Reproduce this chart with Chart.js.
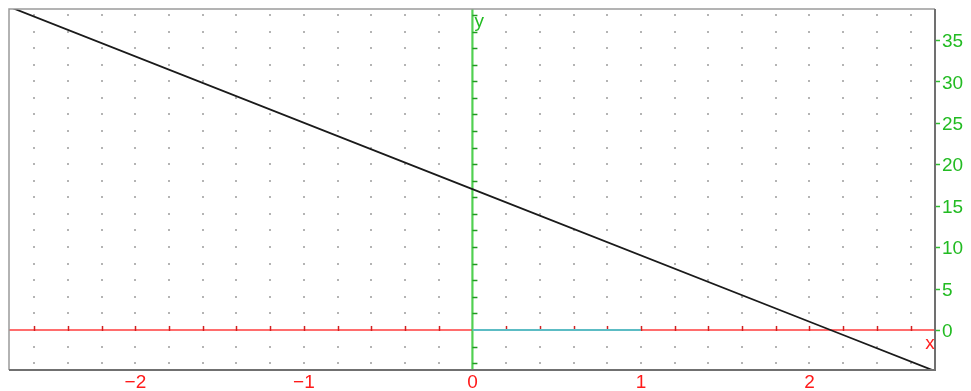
<!DOCTYPE html>
<html>
<head>
<meta charset="utf-8">
<script src="https://cdn.jsdelivr.net/npm/chart.js@4/dist/chart.umd.min.js"></script>
<style>
html,body{margin:0;padding:0;background:#fff;}
#c{display:block;}
</style>
</head>
<body>
<canvas id="c" width="971" height="391"></canvas>
<script>
// ---- data ----
const lineX = [-2.75, 0, 2.125, 2.75];
const lineY = [39, 17, 0, -5];
const segX = [0, 1];
const segY = [0, 0];
const xTickValues = [-2, -1, 0, 1, 2];
const xTickLabels = ['\u22122', '\u22121', '0', '1', '2'];
const yTickValues = [0, 5, 10, 15, 20, 25, 30, 35];
const yTickLabels = ['0', '5', '10', '15', '20', '25', '30', '35'];
const xRange = [-2.75, 2.745];
const yRange = [-4.83, 38.72];
const xMinorStep = 0.2;
const yMinorStep = 2;

const FONT = '"Liberation Sans", Arial, Helvetica, sans-serif';

const decor = {
  id: 'decor',
  beforeDatasetsDraw(chart) {
    const {ctx, chartArea: a, scales: {x, y}} = chart;
    ctx.save();
    // dot grid
    ctx.fillStyle = '#b4b4b4';
    const nx0 = Math.ceil(xRange[0] / xMinorStep), nx1 = Math.floor(xRange[1] / xMinorStep);
    const ny0 = Math.ceil(yRange[0] / yMinorStep), ny1 = Math.floor(yRange[1] / yMinorStep);
    for (let i = nx0; i <= nx1; i++) {
      if (i === 0) continue;
      const px = Math.round(x.getPixelForValue(i * xMinorStep));
      for (let j = ny0; j <= ny1; j++) {
        if (j === 0) continue;
        const py = Math.round(y.getPixelForValue(j * yMinorStep));
        ctx.fillRect(px - 1, py - 1, 2, 2);
      }
    }
    // red x axis
    const y0 = y.getPixelForValue(0);
    ctx.strokeStyle = 'rgba(255,60,60,0.75)';
    ctx.lineWidth = 2;
    ctx.beginPath(); ctx.moveTo(a.left, y0); ctx.lineTo(a.right, y0); ctx.stroke();
    ctx.strokeStyle = '#d02020';
    ctx.lineWidth = 1.5;
    for (let i = nx0; i <= nx1; i++) {
      if (i === 0) continue;
      const px = Math.round(x.getPixelForValue(i * xMinorStep)) + 0.5;
      ctx.beginPath(); ctx.moveTo(px, y0 - 4); ctx.lineTo(px, y0 + 1); ctx.stroke();
    }
    // green y axis
    const x0 = x.getPixelForValue(0);
    ctx.strokeStyle = 'rgba(50,200,50,0.85)';
    ctx.lineWidth = 2.2;
    ctx.beginPath(); ctx.moveTo(x0, a.top); ctx.lineTo(x0, a.bottom); ctx.stroke();
    ctx.strokeStyle = '#209a20';
    ctx.lineWidth = 1.5;
    for (let j = ny0; j <= ny1; j++) {
      if (j === 0) continue;
      const py = Math.round(y.getPixelForValue(j * yMinorStep)) + 0.5;
      ctx.beginPath(); ctx.moveTo(x0, py); ctx.lineTo(x0 + 5, py); ctx.stroke();
    }
    ctx.restore();
  },
  afterDatasetsDraw(chart) {
    const {ctx, chartArea: a, scales: {x, y}} = chart;
    ctx.save();
    // frame
    ctx.strokeStyle = '#9a9a9a';
    ctx.lineWidth = 1.5;
    ctx.beginPath(); ctx.moveTo(a.left, a.bottom); ctx.lineTo(a.left, a.top); ctx.lineTo(a.right, a.top); ctx.stroke();
    ctx.strokeStyle = '#707070';
    ctx.lineWidth = 2;
    ctx.beginPath(); ctx.moveTo(a.left, a.bottom); ctx.lineTo(a.right, a.bottom); ctx.lineTo(a.right, a.top); ctx.stroke();
    // right-side green tick marks
    ctx.strokeStyle = '#30c030';
    ctx.lineWidth = 1.5;
    yTickValues.forEach(v => {
      const py = Math.round(y.getPixelForValue(v)) + 0.5;
      ctx.beginPath(); ctx.moveTo(a.right + 1, py); ctx.lineTo(a.right + 5, py); ctx.stroke();
    });
    // axis names
    ctx.font = '19px ' + FONT;
    ctx.fillStyle = '#ff2020';
    ctx.textAlign = 'center';
    ctx.textBaseline = 'alphabetic';
    ctx.fillText('x', a.right - 5, y.getPixelForValue(0) + 19);
    ctx.fillStyle = '#22bb22';
    ctx.textAlign = 'left';
    ctx.fillText('y', x.getPixelForValue(0) + 2, a.top + 18);
    ctx.restore();
  }
};

function noPad(s) { s.paddingTop = 0; s.paddingBottom = 0; s.paddingLeft = 0; s.paddingRight = 0; }

new Chart(document.getElementById('c'), {
  type: 'scatter',
  data: {
    datasets: [
      {
        data: lineX.map((v, i) => ({x: v, y: lineY[i]})),
        showLine: true,
        borderColor: '#1a1a1a',
        borderWidth: 1.8,
        pointRadius: 0,
        tension: 0
      },
      {
        data: segX.map((v, i) => ({x: v, y: segY[i]})),
        showLine: true,
        borderColor: '#5cbcc4',
        borderWidth: 2,
        pointRadius: 0,
        tension: 0
      }
    ]
  },
  options: {
    responsive: false,
    animation: false,
    events: [],
    layout: {padding: {left: 9, top: 9, right: 0, bottom: 0}},
    plugins: {legend: {display: false}, tooltip: {enabled: false}},
    scales: {
      x: {
        type: 'linear',
        position: 'bottom',
        min: xRange[0],
        max: xRange[1],
        grid: {display: false, drawTicks: false},
        border: {display: false},
        afterBuildTicks: s => { s.ticks = xTickValues.map(v => ({value: v})); },
        afterFit: s => { s.height = 21; noPad(s); },
        ticks: {
          autoSkip: false,
          maxRotation: 0,
          padding: 1,
          color: '#ff1a1a',
          font: {size: 19, family: FONT},
          callback: (v) => { const i = xTickValues.indexOf(v); return i >= 0 ? xTickLabels[i] : ''; }
        }
      },
      y: {
        type: 'linear',
        position: 'right',
        min: yRange[0],
        max: yRange[1],
        grid: {display: false, drawTicks: false},
        border: {display: false},
        afterBuildTicks: s => { s.ticks = yTickValues.map(v => ({value: v})); },
        afterFit: s => { s.width = 36; noPad(s); },
        ticks: {
          autoSkip: false,
          padding: 7,
          labelOffset: 2,
          color: '#22bb22',
          font: {size: 19, family: FONT},
          callback: (v) => { const i = yTickValues.indexOf(v); return i >= 0 ? yTickLabels[i] : ''; }
        }
      }
    }
  },
  plugins: [decor]
});
</script>
</body>
</html>
